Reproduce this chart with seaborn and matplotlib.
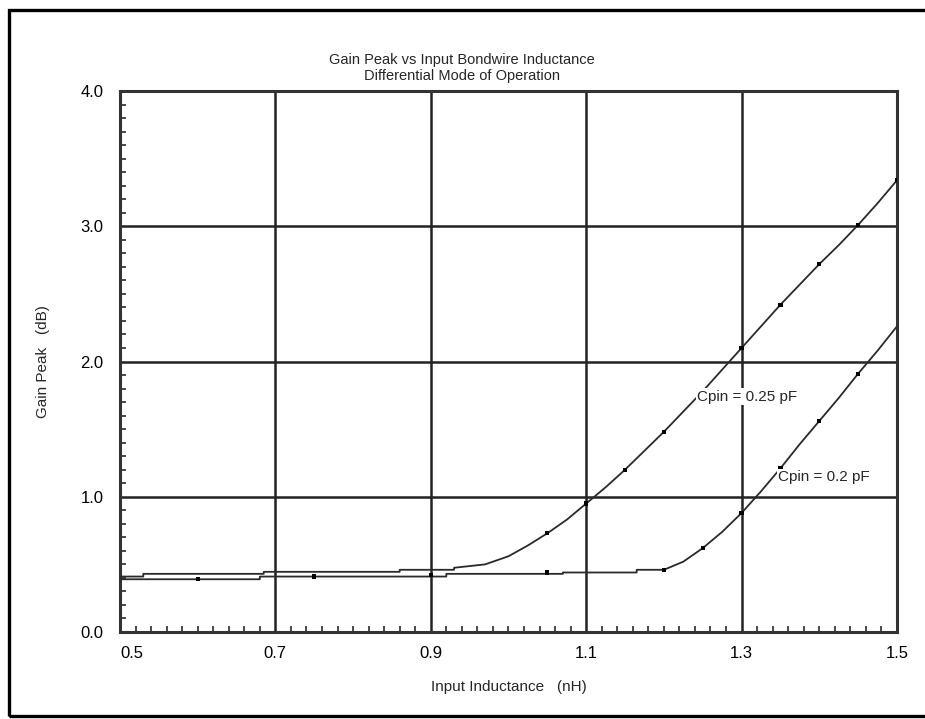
import matplotlib
matplotlib.use("Agg")
import matplotlib.pyplot as plt
from matplotlib.patches import Rectangle
from matplotlib.ticker import MultipleLocator
import numpy as np
import pandas as pd
import seaborn as sns

# Cpin = 0.25 pF curve
x_025 = [0.50, 0.53, 0.53, 0.685, 0.685, 0.86, 0.86, 0.93, 0.93, 0.97,
         1.00, 1.025, 1.05, 1.075, 1.10, 1.125, 1.15, 1.175, 1.20, 1.225,
         1.25, 1.275, 1.30, 1.325, 1.35, 1.375, 1.40, 1.425, 1.45, 1.475, 1.50]
y_025 = [0.41, 0.41, 0.43, 0.43, 0.445, 0.445, 0.46, 0.46, 0.475, 0.50,
         0.56, 0.64, 0.73, 0.83, 0.95, 1.07, 1.20, 1.34, 1.48, 1.63,
         1.78, 1.94, 2.10, 2.26, 2.42, 2.57, 2.72, 2.86, 3.01, 3.17, 3.34]

# Cpin = 0.2 pF curve
x_02 = [0.50, 0.68, 0.68, 0.92, 0.92, 1.07, 1.07, 1.165, 1.165, 1.20,
        1.225, 1.25, 1.275, 1.30, 1.325, 1.35, 1.375, 1.40, 1.425, 1.45,
        1.475, 1.50]
y_02 = [0.39, 0.39, 0.41, 0.41, 0.43, 0.43, 0.44, 0.44, 0.46, 0.46,
        0.52, 0.62, 0.74, 0.88, 1.04, 1.21, 1.39, 1.56, 1.73, 1.91,
        2.08, 2.26]

# simulated sample points (small square dots)
mk_x = [0.60, 0.75, 0.90, 1.05, 1.20, 1.25, 1.30, 1.35, 1.40, 1.45,
        1.05, 1.10, 1.15, 1.20, 1.30, 1.35, 1.40, 1.45, 1.50]
mk_y = [0.39, 0.41, 0.42, 0.44, 0.46, 0.62, 0.88, 1.21, 1.56, 1.91,
        0.73, 0.95, 1.20, 1.48, 2.10, 2.42, 2.72, 3.01, 3.34]

x_ticks = [0.5, 0.7, 0.9, 1.1, 1.3, 1.5]
y_ticks = [0.0, 1.0, 2.0, 3.0, 4.0]


def main():
    sns.set_style("white")
    plt.rcParams["font.family"] = ["Liberation Sans", "DejaVu Sans"]

    df1 = pd.DataFrame({"x": x_025, "y": y_025})
    df2 = pd.DataFrame({"x": x_02, "y": y_02})

    fig = plt.figure(figsize=(9.25, 7.19), dpi=100)
    ax = fig.add_axes([0.1297, 0.121, 0.9697 - 0.1297, 0.8734 - 0.121])

    ink = "#2a2a2a"
    sns.lineplot(data=df1, x="x", y="y", estimator=None, sort=False,
                 color=ink, linewidth=1.3, ax=ax, zorder=3)
    sns.lineplot(data=df2, x="x", y="y", estimator=None, sort=False,
                 color=ink, linewidth=1.3, ax=ax, zorder=3)
    sns.scatterplot(x=mk_x, y=mk_y, marker="s", s=9, color="black",
                    edgecolor="none", ax=ax, zorder=4)

    ax.set_xlim(0.5, 1.5)
    ax.set_ylim(0.0, 4.0)
    ax.set_xticks(x_ticks)
    ax.set_yticks(y_ticks)
    ax.set_xticklabels([f"{v:.1f}" for v in x_ticks])
    ax.set_yticklabels([f"{v:.1f}" for v in y_ticks])
    ax.xaxis.set_minor_locator(MultipleLocator(0.02))
    ax.yaxis.set_minor_locator(MultipleLocator(0.1))
    ax.tick_params(bottom=True, left=True, which="both")
    ax.tick_params(axis="both", which="major", length=0, labelsize=12,
                   colors="black")
    ax.tick_params(axis="x", which="major", pad=10)
    ax.tick_params(axis="y", which="major", pad=12)
    ax.tick_params(axis="both", which="minor", direction="in", length=4,
                   width=1.2, color=ink)
    ax.get_xticklabels()[0].set_horizontalalignment("left")

    ax.grid(True, which="major", color="#222222", linewidth=1.8)
    for sp in ax.spines.values():
        sp.set_color("#333333")
        sp.set_linewidth(2.2)

    ax.set_xlabel("Input Inductance   (nH)", fontsize=11, labelpad=14)
    ax.set_ylabel("Gain Peak   (dB)", fontsize=11, labelpad=22)

    box = dict(facecolor="white", edgecolor="none", pad=1)
    ax.text(1.2426, 1.74, "Cpin = 0.25 pF", fontsize=11, va="center",
            ha="left", bbox=box, zorder=5)
    ax.text(1.347, 1.146, "Cpin = 0.2 pF", fontsize=11, va="center",
            ha="left", bbox=box, zorder=5)

    fig.text(0.4995, 0.917, "Gain Peak vs Input Bondwire Inductance",
             ha="center", va="center", fontsize=10.5)
    fig.text(0.4995, 0.894, "Differential Mode of Operation",
             ha="center", va="center", fontsize=10.5)

    # outer frame of the figure
    fig.add_artist(Rectangle((0.0092, 0.0042), 1.1, 0.9812,
                             transform=fig.transFigure, fill=False,
                             edgecolor="black", linewidth=2.4))

    fig.savefig("out.png", dpi=100)


if __name__ == "__main__":
    main()
